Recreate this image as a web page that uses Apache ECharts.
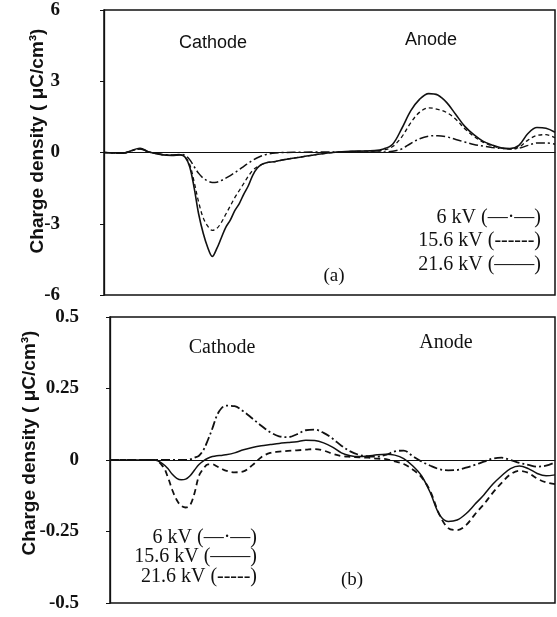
<!DOCTYPE html>
<html>
<head>
<meta charset="utf-8">
<script src="https://cdn.jsdelivr.net/npm/echarts@6/dist/echarts.min.js"></script>
<style>
html,body{margin:0;padding:0;background:#fff;}
#chart{width:557px;height:617px;}
</style>
</head>
<body>
<div id="chart"></div>
<script>
// ---- Panel (a): charge density (μC/cm³) vs. normalized position ----
const xA = [0,4,8,10,13,15,17,18,19,20,21,22,23,24,25,26,27,28,29,30,31,32,33,34,35,36,38,40,44,48,52,56,60,62,64,66,68,70,72,74,76,78,80,82,84,86,88,90,92,94,96,98,100];
const a6kV = [0,-0.03,0.15,0.02,-0.08,-0.1,-0.08,
  -0.12,-0.3,-0.6,-0.88,-1.08,-1.2,-1.26,-1.25,-1.18,-1.08,-0.97,-0.85,-0.72,-0.58,-0.45,-0.32,-0.22,-0.14,-0.08,
  -0.02,0,0.01,0.02,0.02,0.02,0.02,
  0.02,0.05,0.15,0.38,0.58,0.69,0.71,0.66,0.55,0.44,0.34,0.27,0.21,0.17,0.15,0.18,0.3,0.4,0.4,0.35];
const a15kV = [0,-0.03,0.15,0.02,-0.1,-0.12,-0.1,
  -0.2,-0.5,-1.25,-2.1,-2.75,-3.1,-3.28,-3.2,-2.95,-2.6,-2.25,-1.9,-1.6,-1.3,-1.0,-0.75,-0.6,-0.5,-0.43,
  -0.38,-0.3,-0.18,-0.06,0.02,0.05,0.07,
  0.1,0.25,0.65,1.25,1.7,1.88,1.82,1.68,1.4,1.0,0.68,0.44,0.28,0.18,0.15,0.22,0.52,0.72,0.75,0.62];
const a21kV = [0,-0.03,0.18,0.02,-0.1,-0.12,-0.1,
  -0.2,-0.6,-1.5,-2.6,-3.4,-4.0,-4.38,-4.05,-3.6,-3.15,-2.85,-2.45,-2.15,-1.75,-1.4,-0.95,-0.65,-0.5,-0.43,
  -0.38,-0.3,-0.18,-0.06,0.02,0.06,0.08,
  0.15,0.35,1.0,1.75,2.25,2.48,2.42,2.1,1.6,1.1,0.75,0.48,0.32,0.2,0.17,0.3,0.8,1.05,1.02,0.85];
const yTicksA = [-6,-3,0,3,6];

// ---- Panel (b) ----
const xB = [0,5,10,12,13,14,15,16,17,18,19,20,21,22,23,24,25,26,28,30,32,34,36,38,40,42,44,46,48,50,52,54,56,58,60,62,64,66,68,70,72,74,76,78,80,82,84,86,88,90,92,94,96,98,100];
const b6kV = [0,0,0,
  0,0,0,0,0,0,0.002,0.008,0.015,0.035,0.07,0.11,0.155,0.18,0.19,
  0.188,0.17,0.145,0.12,0.097,0.083,0.08,0.09,0.104,0.106,0.095,0.075,0.05,0.03,0.018,0.013,0.012,0.018,0.03,0.033,
  0.014,-0.005,-0.02,-0.032,-0.036,-0.035,-0.027,-0.017,-0.006,0.005,0.008,0,-0.01,-0.017,-0.023,-0.02,-0.008];
const b15kV = [0,0,0,
  -0.015,-0.03,-0.05,-0.064,-0.069,-0.067,-0.055,-0.035,-0.016,-0.003,0.006,0.012,0.015,0.016,0.018,
  0.025,0.036,0.044,0.05,0.054,0.058,0.061,0.064,0.069,0.068,0.06,0.045,0.025,0.015,0.012,0.014,0.018,0.02,0.017,0.005,
  -0.02,-0.055,-0.115,-0.19,-0.215,-0.21,-0.188,-0.155,-0.122,-0.085,-0.055,-0.03,-0.021,-0.03,-0.047,-0.055,-0.052];
const b21kV = [0,0,0,
  -0.025,-0.06,-0.105,-0.14,-0.16,-0.166,-0.158,-0.115,-0.055,-0.03,-0.015,-0.015,-0.022,-0.03,-0.037,
  -0.043,-0.04,-0.018,0.01,0.025,0.029,0.032,0.034,0.036,0.038,0.033,0.022,0.014,0.011,0.009,0.008,0.005,0.003,-0.005,-0.014,
  -0.033,-0.06,-0.11,-0.19,-0.238,-0.245,-0.228,-0.19,-0.155,-0.115,-0.08,-0.05,-0.038,-0.045,-0.065,-0.078,-0.084];
const yTicksB = [-0.5,-0.25,0,0.25,0.5];

const legendA = ['6 kV (—·—)', '15.6 kV (------)', '21.6 kV (——)'];
const legendB = ['6 kV (—·—)', '15.6 kV (——)', '21.6 kV (-----)'];
const yTitle = 'Charge density ( μC/cm³)';

const pair = (xs, ys) => xs.map((x, i) => [x, ys[i]]);
const DASHDOT = [9, 3, 2, 3];
const DASH = [4, 3];
const INK = '#111';

const tickFont = {color: INK, fontFamily: '"Liberation Serif"', fontWeight: 'bold', fontSize: 19};

function xAxisFor(gi) {
  return {gridIndex: gi, type: 'value', min: 0, max: 100,
    axisLine: {onZero: true, lineStyle: {color: INK, width: 1}},
    axisTick: {show: false}, axisLabel: {show: false}, splitLine: {show: false}};
}
function yAxisFor(gi, min, max, interval, offset, margin) {
  return {gridIndex: gi, type: 'value', min, max, interval, offset,
    axisLine: {show: true, lineStyle: {color: INK, width: 1.3}},
    axisTick: {show: true, length: 4, lineStyle: {color: INK}},
    axisLabel: Object.assign({margin}, tickFont),
    splitLine: {show: false}};
}
function lineSeries(name, gi, data, type, width) {
  return {name, type: 'line', xAxisIndex: gi, yAxisIndex: gi, data, smooth: 0.35,
    showSymbol: false, symbol: 'none', silent: true,
    lineStyle: {color: INK, width, type}};
}
function txt(x, y, text, font, align) {
  return {type: 'text', x, y, silent: true,
    style: {text, font, fill: INK, align: align || 'center', verticalAlign: 'middle'}};
}

const chart = echarts.init(document.getElementById('chart'), null, {renderer: 'canvas'});
chart.setOption({
  backgroundColor: '#fff',
  animation: false,
  grid: [
    {left: 104, top: 10, right: 2, height: 285, show: true, borderColor: INK, borderWidth: 1.5, backgroundColor: 'transparent'},
    {left: 110, top: 317, right: 2, height: 286, show: true, borderColor: INK, borderWidth: 1.5, backgroundColor: 'transparent'}
  ],
  xAxis: [xAxisFor(0), xAxisFor(1)],
  yAxis: [
    yAxisFor(0, yTicksA[0], yTicksA[yTicksA.length - 1], 3, 16, 28),
    yAxisFor(1, yTicksB[0], yTicksB[yTicksB.length - 1], 0.25, 20, 11)
  ],
  series: [
    lineSeries('6 kV (a)', 0, pair(xA, a6kV), DASHDOT, 1.5),
    lineSeries('15.6 kV (a)', 0, pair(xA, a15kV), DASH, 1.3),
    lineSeries('21.6 kV (a)', 0, pair(xA, a21kV), 'solid', 1.6),
    lineSeries('6 kV (b)', 1, pair(xB, b6kV), DASHDOT, 1.8),
    lineSeries('15.6 kV (b)', 1, pair(xB, b15kV), 'solid', 1.5),
    lineSeries('21.6 kV (b)', 1, pair(xB, b21kV), [6, 4], 1.8)
  ],
  graphic: [
    Object.assign(txt(38, 141, yTitle, 'bold 19px "Liberation Sans"'), {rotation: Math.PI / 2}),
    Object.assign(txt(30, 443, yTitle, 'bold 19px "Liberation Sans"'), {rotation: Math.PI / 2}),
    txt(213, 43, 'Cathode', '18px "Liberation Sans"'),
    txt(431, 40, 'Anode', '18px "Liberation Sans"'),
    txt(222, 348, 'Cathode', '20px "Liberation Serif"'),
    txt(446, 343, 'Anode', '20px "Liberation Serif"'),
    txt(334, 276, '(a)', '19px "Liberation Serif"'),
    txt(352, 580, '(b)', '19px "Liberation Serif"'),
    txt(541, 218, legendA[0], '20px "Liberation Serif"', 'right'),
    txt(541, 241, legendA[1], '20px "Liberation Serif"', 'right'),
    txt(541, 265, legendA[2], '20px "Liberation Serif"', 'right'),
    txt(257, 538, legendB[0], '20px "Liberation Serif"', 'right'),
    txt(257, 557, legendB[1], '20px "Liberation Serif"', 'right'),
    txt(257, 577, legendB[2], '20px "Liberation Serif"', 'right')
  ]
});
</script>
</body>
</html>
